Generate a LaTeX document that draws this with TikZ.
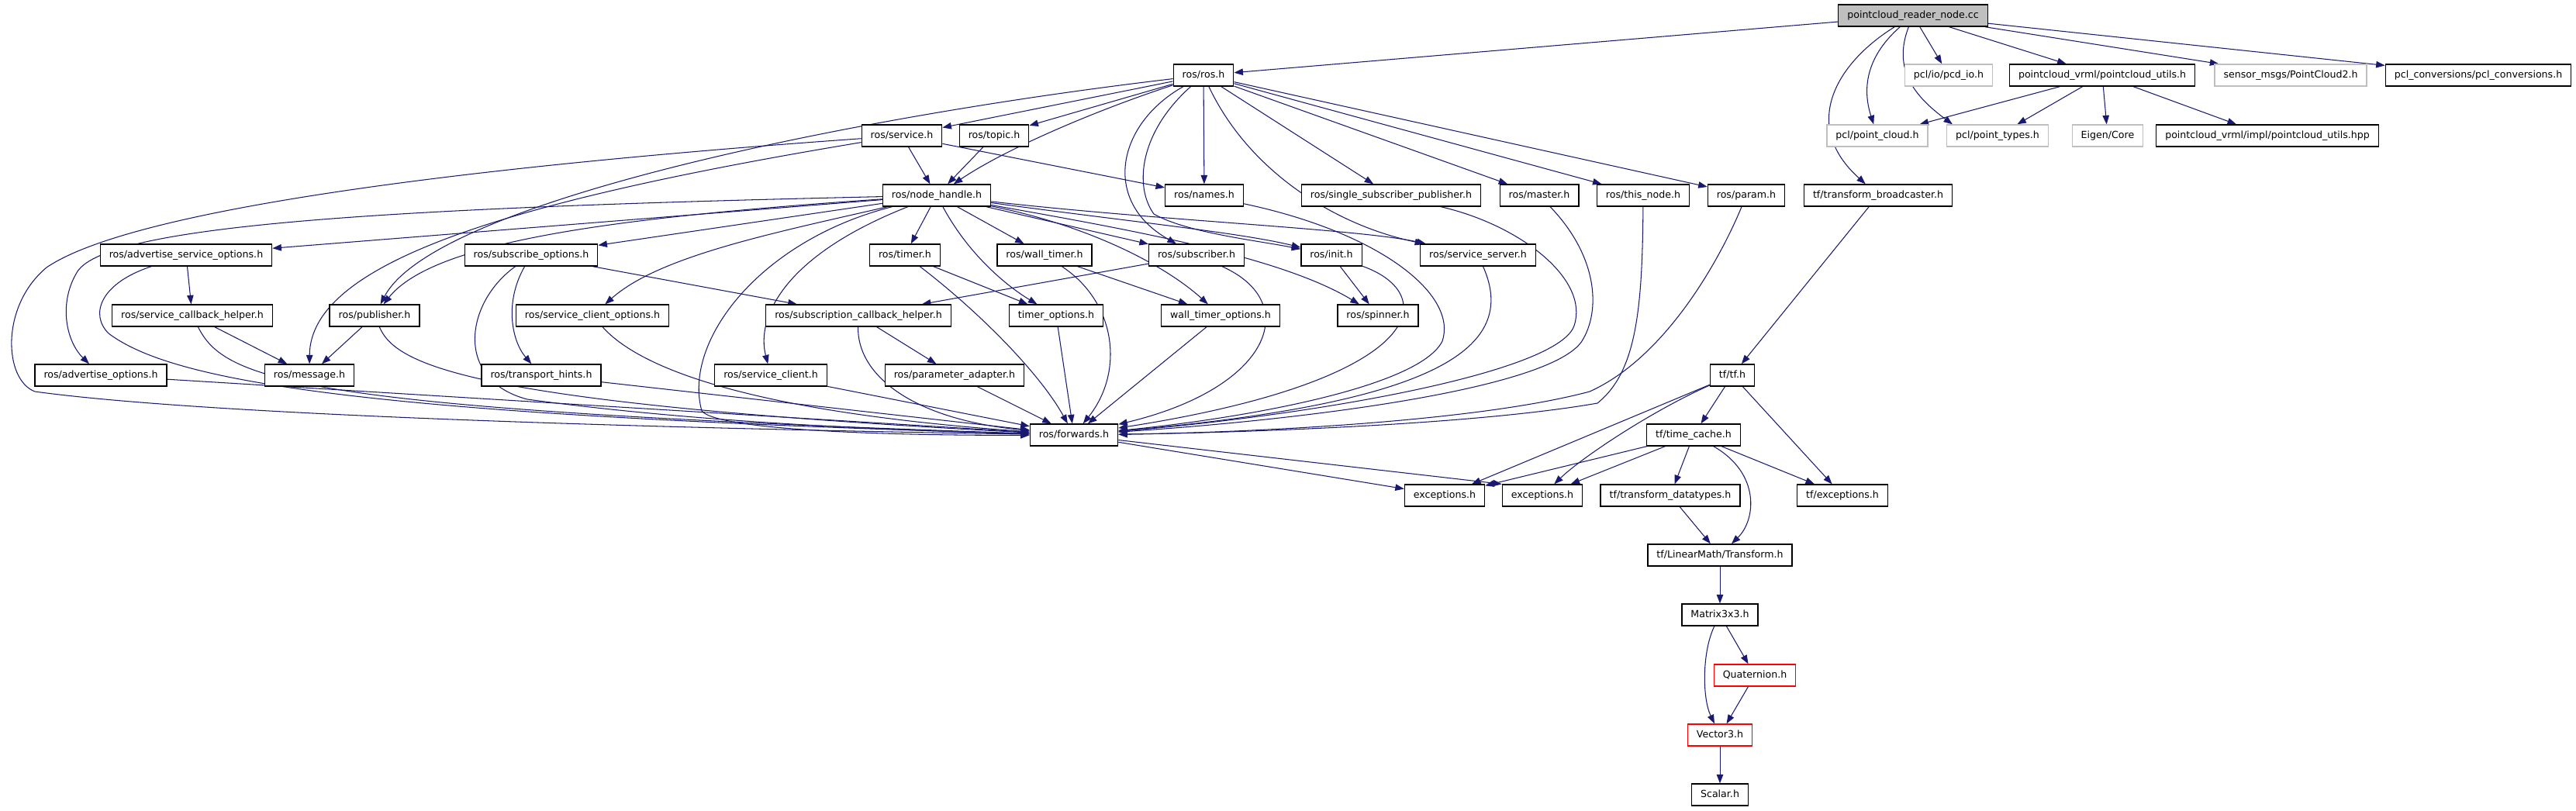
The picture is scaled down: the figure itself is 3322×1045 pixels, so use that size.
\documentclass[tikz,border=0pt]{standalone}
\usepackage{fontspec}
\setmainfont{DejaVu Sans}
\usetikzlibrary{arrows.meta}
\definecolor{midnight}{HTML}{191970}
\definecolor{graybd}{HTML}{BFBFBF}
\pgfdeclarelayer{background}
\pgfsetlayers{background,main}
\begin{document}
\begin{tikzpicture}[x=1pt,y=-1pt,
  box/.style={draw=black, line width=1.3pt, fill=white, minimum height=28pt, inner xsep=11.5pt, inner ysep=0pt, font=\fontsize{12.6}{15}\selectfont, text height=9.5pt, text depth=3pt},
  gbox/.style={box, draw=graybd},
  rbox/.style={box, draw=red},
  conn/.style={draw=midnight, line width=1.05pt, -{Triangle[length=11.5pt,width=8.5pt]}}]
\useasboundingbox (0,0) rectangle (3322,1045);
% rank 0
\node[box, fill=graybd] (root) at (2467,20) {pointcloud\_reader\_node.cc};
% rank 1
\node[box] (ros) at (1552,97) {ros/ros.h};
\node[gbox] (pcdio) at (2513,97) {pcl/io/pcd\_io.h};
\node[box] (pcutils) at (2711,97) {pointcloud\_vrml/pointcloud\_utils.h};
\node[gbox] (sensor) at (2954,97) {sensor\_msgs/PointCloud2.h};
\node[box] (pclconv) at (3196,97) {pcl\_conversions/pcl\_conversions.h};
% rank 2
\node[box] (service) at (1163,175) {ros/service.h};
\node[box] (topic) at (1282,175) {ros/topic.h};
\node[gbox] (pointcloud) at (2421,175) {pcl/point\_cloud.h};
\node[gbox] (pointtypes) at (2576,175) {pcl/point\_types.h};
\node[gbox] (eigen) at (2718,175) {Eigen/Core};
\node[box] (pchpp) at (2924,175) {pointcloud\_vrml/impl/pointcloud\_utils.hpp};
% rank 3
\node[box] (nh) at (1208,252) {ros/node\_handle.h};
\node[box] (names) at (1553,252) {ros/names.h};
\node[box] (ssp) at (1794,252) {ros/single\_subscriber\_publisher.h};
\node[box] (master) at (1985,252) {ros/master.h};
\node[box] (thisnode) at (2119,252) {ros/this\_node.h};
\node[box] (param) at (2252,252) {ros/param.h};
\node[box] (tfb) at (2422,252) {tf/transform\_broadcaster.h};
% rank 4
\node[box] (aso) at (240,329) {ros/advertise\_service\_options.h};
\node[box] (subopt) at (685,329) {ros/subscribe\_options.h};
\node[box] (timer) at (1167,329) {ros/timer.h};
\node[box] (wtimer) at (1347,329) {ros/wall\_timer.h};
\node[box] (subscriber) at (1543,329) {ros/subscriber.h};
\node[box] (init) at (1717,329) {ros/init.h};
\node[box] (sserver) at (1906,329) {ros/service\_server.h};
% rank 5
\node[box] (sch) at (248,407) {ros/service\_callback\_helper.h};
\node[box] (publisher) at (483,407) {ros/publisher.h};
\node[box] (sco) at (764,407) {ros/service\_client\_options.h};
\node[box] (subch) at (1107,407) {ros/subscription\_callback\_helper.h};
\node[box] (topt) at (1362,407) {timer\_options.h};
\node[box] (wtopt) at (1574,407) {wall\_timer\_options.h};
\node[box] (spinner) at (1777,407) {ros/spinner.h};
% rank 6
\node[box] (advopt) at (130,484) {ros/advertise\_options.h};
\node[box] (message) at (399,484) {ros/message.h};
\node[box] (thints) at (698,484) {ros/transport\_hints.h};
\node[box] (sclient) at (994,484) {ros/service\_client.h};
\node[box] (padapter) at (1231,484) {ros/parameter\_adapter.h};
\node[box] (tf) at (2234,484) {tf/tf.h};
% rank 7
\node[box] (forwards) at (1385,561) {ros/forwards.h};
\node[box] (timecache) at (2184,561) {tf/time\_cache.h};
% rank 8
\node[box] (exc1) at (1863,639) {exceptions.h};
\node[box] (exc2) at (1989,639) {exceptions.h};
\node[box] (tfdt) at (2154,639) {tf/transform\_datatypes.h};
\node[box] (tfexc) at (2376,639) {tf/exceptions.h};
% ranks 9-13
\node[box] (transform) at (2218,716) {tf/LinearMath/Transform.h};
\node[box] (matrix) at (2218,793) {Matrix3x3.h};
\node[rbox] (quat) at (2263,871) {Quaternion.h};
\node[rbox] (vector) at (2218,948) {Vector3.h};
\node[box] (scalar) at (2218,1025) {Scalar.h};

\begin{pgfonlayer}{background}
% ---- edges: root
\draw[conn] (root) -- (ros);
\draw[conn] (root) -- (pcdio);
\draw[conn] (root) -- (pcutils);
\draw[conn] (root) -- (sensor);
\draw[conn] (root) -- (pclconv);
\draw[conn] (root) .. controls (2410,70) and (2400,110) .. (pointcloud);
\draw[conn] (root) .. controls (2440,90) and (2470,125) .. ([xshift=8pt]pointtypes.north west);
\draw[conn] (root) .. controls (2370,80) and (2320,160) .. (tfb);
% pointcloud_utils
\draw[conn] (pcutils) -- (pointcloud);
\draw[conn] (pcutils) -- (pointtypes);
\draw[conn] (pcutils) -- (eigen);
\draw[conn] (pcutils) -- (pchpp);
% ros.h
\draw[conn] (ros) -- (service);
\draw[conn] (ros) -- (topic);
\draw[conn] (ros) .. controls (1420,140) and (1300,190) .. (nh);
\draw[conn] (ros) .. controls (1100,150) and (560,260) .. (publisher);
\draw[conn] (ros) .. controls (1440,160) and (1420,260) .. (subscriber);
\draw[conn] (ros) .. controls (1470,170) and (1462,240) .. (1488,276) .. controls (1530,300) and (1620,310) .. (init);
\draw[conn] (ros) -- (names);
\draw[conn] (ros) .. controls (1610,220) and (1720,290) .. (sserver);
\draw[conn] (ros) -- (ssp);
\draw[conn] (ros) -- (master);
\draw[conn] (ros) -- (thisnode);
\draw[conn] (ros) -- (param);
% service.h
\draw[conn] (service) -- (nh);
\draw[conn] (service) -- (names);
\draw[conn] (service) .. controls (650,260) and (400,340) .. (message);
\draw[conn] (service) .. controls (600,215) and (170,270) .. (60,345) .. controls (0,395) and (5,490) .. (45,505) .. controls (300,540) and (1000,555) .. (forwards);
% topic.h
\draw[conn] (topic) -- (nh);
% node_handle.h
\draw[conn] (nh) .. controls (980,310) and (880,440) .. (905,530) .. controls (925,555) and (1150,562) .. (forwards);
\draw[conn] (nh) -- (timer);
\draw[conn] (nh) .. controls (1250,330) and (1300,370) .. (topt);
\draw[conn] (nh) -- (wtimer);
\draw[conn] (nh) -- (subscriber);
\draw[conn] (nh) .. controls (1400,290) and (1500,340) .. (wtopt);
\draw[conn] (nh) .. controls (1450,285) and (1600,300) .. (init);
\draw[conn] (nh) .. controls (1500,285) and (1750,295) .. (sserver);
\draw[conn] (nh) .. controls (1450,295) and (1650,330) .. (spinner);
\draw[conn] (nh) -- (aso);
\draw[conn] (nh) .. controls (500,268) and (140,290) .. (100,350) .. controls (75,390) and (85,440) .. (advopt);
\draw[conn] (nh) -- (subopt);
\draw[conn] (nh) .. controls (800,280) and (560,310) .. (publisher);
\draw[conn] (nh) .. controls (1000,300) and (850,330) .. (sco);
\draw[conn] (nh) .. controls (1010,330) and (975,410) .. (sclient);
% subscribe_options
\draw[conn] (subopt) .. controls (650,390) and (660,440) .. (thints);
\draw[conn] (subopt) .. controls (600,390) and (585,490) .. (680,515) .. controls (900,545) and (1150,555) .. (forwards);
\draw[conn] (subopt) -- (subch);
% timer, wall_timer
\draw[conn] (timer) -- (topt);
\draw[conn] (timer) .. controls (1260,400) and (1340,480) .. (forwards);
\draw[conn] (wtimer) -- (wtopt);
\draw[conn] (wtimer) .. controls (1440,390) and (1450,480) .. (forwards);
% subscriber, init, service_server
\draw[conn] (subscriber) -- (subch);
\draw[conn] (subscriber) .. controls (1680,390) and (1640,500) .. (forwards);
\draw[conn] (init) -- (spinner);
\draw[conn] (init) .. controls (1860,380) and (1840,490) .. (forwards);
\draw[conn] (sserver) .. controls (1960,450) and (1850,520) .. (forwards);
% rank-3 right group
\draw[conn] (names) .. controls (1780,300) and (1880,380) .. (1860,440) .. controls (1830,500) and (1600,540) .. (forwards);
\draw[conn] (ssp) .. controls (1960,290) and (2050,360) .. (2030,420) .. controls (2010,480) and (1700,535) .. (forwards);
\draw[conn] (master) .. controls (2060,330) and (2065,400) .. (2040,440) .. controls (2000,500) and (1700,540) .. (forwards);
\draw[conn] (thisnode) .. controls (2118,400) and (2110,480) .. (2060,520) .. controls (1900,548) and (1600,558) .. (forwards);
\draw[conn] (param) .. controls (2220,330) and (2150,460) .. (2050,505) .. controls (1900,545) and (1600,558) .. (forwards);
% rank 5
\draw[conn] (sco) .. controls (820,470) and (950,530) .. (forwards);
\draw[conn] (subch) -- (padapter);
\draw[conn] (subch) .. controls (1105,480) and (1170,540) .. (forwards);
\draw[conn] (topt) -- (forwards);
\draw[conn] (wtopt) -- (forwards);
\draw[conn] (sch) -- (message);
\draw[conn] (sch) .. controls (290,490) and (380,528) .. (forwards);
\draw[conn] (publisher) -- (message);
\draw[conn] (publisher) .. controls (510,470) and (600,520) .. (forwards);
% rank 4 left
\draw[conn] (aso) -- (sch);
\draw[conn] (aso) .. controls (130,365) and (115,405) .. (140,430) .. controls (220,490) and (450,535) .. (forwards);
% rank 6
\draw[conn] (advopt) -- (forwards);
\draw[conn] (thints) -- (forwards);
\draw[conn] (sclient) -- (forwards);
\draw[conn] (padapter) -- (forwards);
% forwards
\draw[conn] (forwards) -- (exc1);
\draw[conn] (forwards) -- (exc2.north west);
% tf
\draw[conn] (tfb) -- (tf);
\draw[conn] (tf) -- (exc1);
\draw[conn] (tf) .. controls (2130,530) and (2040,590) .. (exc2);
\draw[conn] (tf) -- (timecache);
\draw[conn] (tf) -- (tfexc);
\draw[conn] (timecache) -- (exc1);
\draw[conn] (timecache) -- (exc2);
\draw[conn] (timecache) -- (tfdt);
\draw[conn] (timecache) -- (tfexc);
\draw[conn] (timecache) .. controls (2270,610) and (2265,670) .. (transform);
\draw[conn] (tfdt) -- (transform);
\draw[conn] (transform) -- (matrix);
\draw[conn] (matrix) .. controls (2195,840) and (2195,900) .. (vector);
\draw[conn] (matrix) -- (quat);
\draw[conn] (quat) -- (vector);
\draw[conn] (vector) -- (scalar);
\end{pgfonlayer}
\end{tikzpicture}
\end{document}
